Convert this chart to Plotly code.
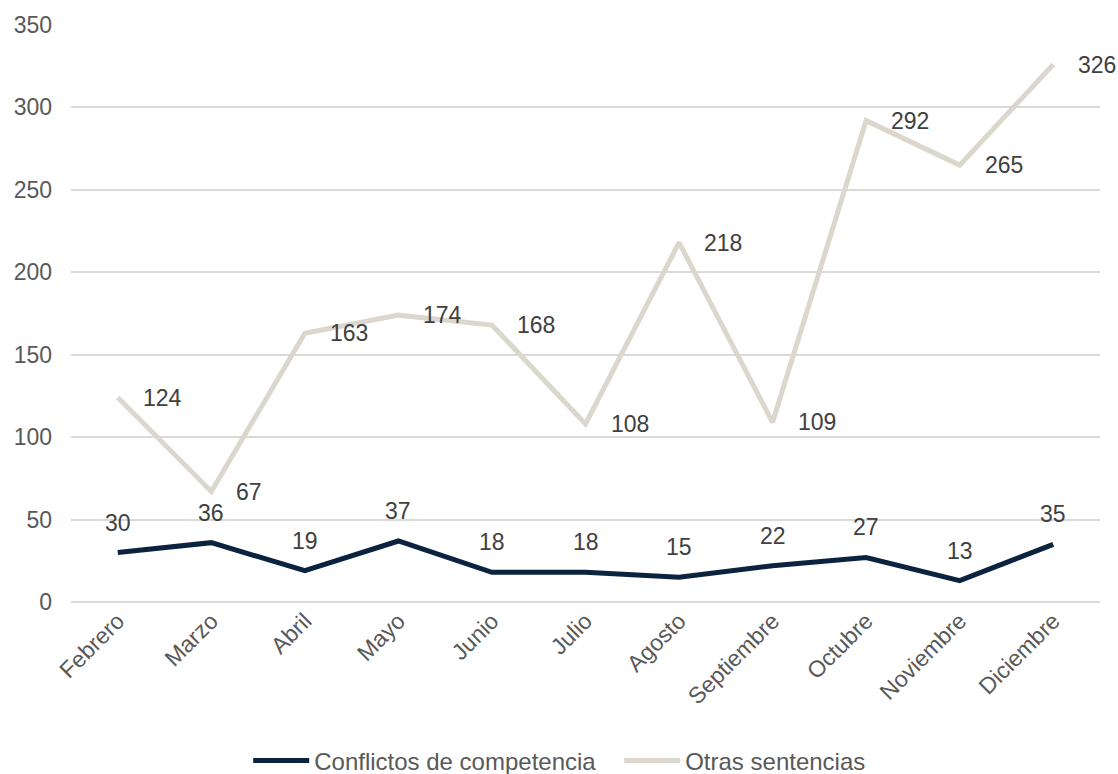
import plotly.graph_objects as go

meses = ["Febrero", "Marzo", "Abril", "Mayo", "Junio", "Julio", "Agosto",
         "Septiembre", "Octubre", "Noviembre", "Diciembre"]
conflictos = [30, 36, 19, 37, 18, 18, 15, 22, 27, 13, 35]
otras = [124, 67, 163, 174, 168, 108, 218, 109, 292, 265, 326]
y_ticks = [0, 50, 100, 150, 200, 250, 300, 350]

NAVY = "#0c2340"
BEIGE = "#dcd7cc"
FONT = "Liberation Sans, Arial, sans-serif"
FS = 23

fig = go.Figure()
fig.add_trace(go.Scatter(x=meses, y=conflictos, mode="lines", name="Conflictos de competencia",
                         line=dict(color=NAVY, width=5)))
fig.add_trace(go.Scatter(x=meses, y=otras, mode="lines", name="Otras sentencias",
                         line=dict(color=BEIGE, width=5)))

annotations = []
for m, v in zip(meses, conflictos):
    annotations.append(dict(x=m, y=v, text=str(v), showarrow=False, yshift=30,
                            xanchor="center", yanchor="middle",
                            font=dict(family=FONT, size=FS, color="#404040")))
for m, v in zip(meses, otras):
    annotations.append(dict(x=m, y=v, text=str(v), showarrow=False, xshift=23,
                            xanchor="left", yanchor="middle",
                            font=dict(family=FONT, size=FS, color="#404040")))

fig.update_layout(
    width=1118, height=774,
    margin=dict(l=71, r=18, t=23, b=172),
    paper_bgcolor="white", plot_bgcolor="white",
    font=dict(family=FONT, size=FS, color="#595959"),
    showlegend=True,
    legend=dict(orientation="h", xref="container", yref="container",
                x=0.222, xanchor="left", y=0.017, yanchor="middle",
                font=dict(family=FONT, size=24, color="#595959"), itemwidth=56,
                entrywidth=300, tracegroupgap=0),
    annotations=annotations,
    xaxis=dict(tickangle=-45, showgrid=False, zeroline=False, showline=False,
               range=[-0.5, len(meses) - 0.5],
               tickfont=dict(family=FONT, size=FS, color="#595959")),
    yaxis=dict(range=[0, 350], tickvals=y_ticks, showgrid=True, gridcolor="#d9d9d9",
               gridwidth=1.5, zeroline=True, zerolinecolor="#d9d9d9", zerolinewidth=1.5,
               showline=False, ticklabelstandoff=18,
               tickfont=dict(family=FONT, size=FS, color="#595959")),
)

fig.write_html("out.html", post_script="document.body.style.margin='0';",
               config={"displayModeBar": False})
